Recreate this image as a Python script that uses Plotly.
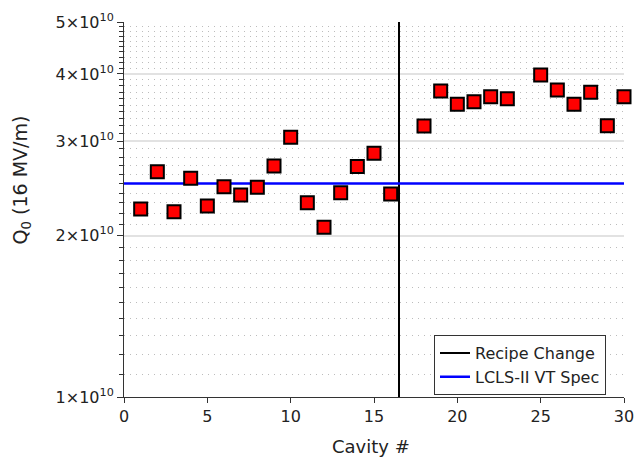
import plotly.graph_objects as go

cavity = [1, 2, 3, 4, 5, 6, 7, 8, 9, 10, 11, 12, 13, 14, 15, 16,
          18, 19, 20, 21, 22, 23, 25, 26, 27, 28, 29, 30]
q0 = [2.24e10, 2.63e10, 2.215e10, 2.557e10, 2.27e10, 2.466e10, 2.38e10, 2.46e10,
      2.696e10, 3.049e10, 2.303e10, 2.072e10, 2.404e10, 2.688e10, 2.847e10, 2.39e10,
      3.20e10, 3.72e10, 3.512e10, 3.551e10, 3.628e10, 3.597e10, 3.983e10, 3.736e10,
      3.512e10, 3.698e10, 3.204e10, 3.628e10]

recipe_change_x = 16.5
spec_value = 2.5e10
x_range = [0, 30]
y_range = [1e10, 5e10]

x_ticks = [0, 5, 10, 15, 20, 25, 30]
y_ticks = [1e10, 2e10, 3e10, 4e10, 5e10]
y_ticktext = ["1×10<sup>10</sup>", "2×10<sup>10</sup>", "3×10<sup>10</sup>",
              "4×10<sup>10</sup>", "5×10<sup>10</sup>"]
y_minor = [m * 1e9 for m in range(10, 51) if m % 10 != 0]

FONT = "DejaVu Sans"
TXT = "#222222"

fig = go.Figure()

fig.add_trace(go.Scatter(
    x=[recipe_change_x, recipe_change_x], y=y_range, mode="lines",
    line=dict(color="black", width=2), name="Recipe Change", showlegend=True))
fig.add_trace(go.Scatter(
    x=x_range, y=[spec_value, spec_value], mode="lines",
    line=dict(color="#0000ff", width=2.5), name="LCLS-II VT Spec", showlegend=True))
fig.add_trace(go.Scatter(
    x=cavity, y=q0, mode="markers",
    marker=dict(symbol="square", size=13, color="#ff0000",
                line=dict(color="black", width=2)),
    showlegend=False, cliponaxis=False))

fig.update_layout(
    width=636, height=457,
    margin=dict(l=124, r=12, t=22, b=60, autoexpand=False),
    paper_bgcolor="white", plot_bgcolor="white",
    font=dict(family=FONT, size=16, color=TXT),
    legend=dict(x=0.62, y=0.165, xanchor="left", yanchor="top",
                bordercolor="#333333", borderwidth=1, bgcolor="white",
                font=dict(size=16, color=TXT),
                tracegroupgap=0, itemwidth=30),
    xaxis=dict(range=x_range, tickvals=x_ticks, showgrid=False, zeroline=False,
               automargin=False, ticklabeloverflow="allow",
               showline=True, linecolor="#333333", linewidth=1,
               ticks="outside", ticklen=5, tickcolor="#333333",
               tickfont=dict(size=16)),
    yaxis=dict(type="log", range=[10, 10.69897], tickvals=y_ticks, ticktext=y_ticktext,
               automargin=False,
               showgrid=True, gridcolor="#e2e2e2", gridwidth=1.5, zeroline=False,
               showline=True, linecolor="#333333", linewidth=1,
               ticks="outside", ticklen=6, tickcolor="#333333",
               tickfont=dict(size=16),
               minor=dict(tickvals=y_minor, showgrid=True, griddash="1px,5px",
                          gridcolor="#bcbcbc", gridwidth=1,
                          ticks="outside", ticklen=4, tickcolor="#333333")),
    annotations=[
        dict(text="Cavity #", xref="paper", yref="paper", x=0.494, y=-0.131,
             xanchor="center", yanchor="middle", showarrow=False,
             font=dict(size=18, color=TXT)),
        dict(text="Q<sub>0</sub> (16 MV/m)", xref="paper", yref="paper",
             x=-0.205, y=0.579, xanchor="center", yanchor="middle", textangle=-90,
             showarrow=False, font=dict(size=19, color=TXT)),
    ],
)

fig.write_html("out.html", config={"displayModeBar": False},
               post_script="document.body.style.margin='0px';")
